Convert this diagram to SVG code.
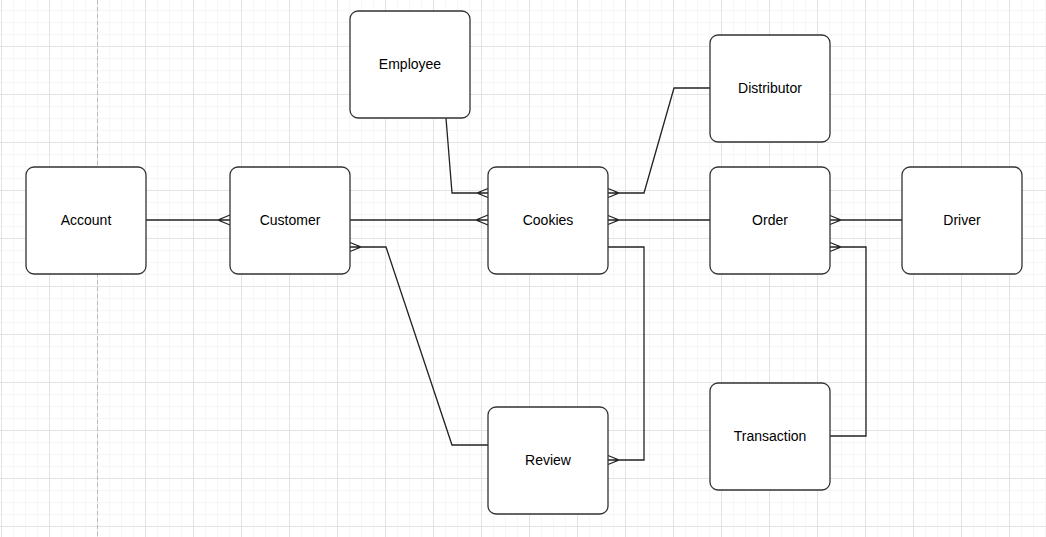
<svg xmlns="http://www.w3.org/2000/svg" width="1046" height="537" viewBox="0 0 1046 537">
<defs>
<style>
.node rect{fill:#fff;stroke:#333;stroke-width:1.3}
.node text{font-family:"Liberation Sans",Arial,sans-serif;font-size:14px;fill:#000;text-anchor:middle;dominant-baseline:central}
.conn path{fill:none;stroke:#222;stroke-width:1.3}
</style>
<pattern id="minor" width="12" height="12" patternUnits="userSpaceOnUse" x="1" y="10">
<path d="M0 0.5H12M0.5 0V12" fill="none" stroke="#f6f6f6" stroke-width="1"/>
</pattern>
<pattern id="major" width="48" height="48" patternUnits="userSpaceOnUse" x="1" y="46">
<path d="M0 0.5H48M0.5 0V48" fill="none" stroke="#e3e3e3" stroke-width="1"/>
</pattern>
</defs>
<rect width="1046" height="537" fill="#fff"/>
<rect width="1046" height="537" fill="url(#minor)"/>
<rect width="1046" height="537" fill="url(#major)"/>
<line x1="97.5" y1="0" x2="97.5" y2="537" stroke="#bbb" stroke-width="1" stroke-dasharray="4 3"/>
<g id="connectors" class="conn">
<path d="M146 220H230M230 215L218 220L230 225"/>
<path d="M350 220H488M488 215L476 220L488 225"/>
<path d="M446 118L452 193H488M488 188.5L477 193L488 197.5"/>
<path d="M350 247H386L452 445H488M350 242.5L361 247L350 251.5"/>
<path d="M608 193H644L674 88H710M608 188.5L619 193L608 197.5"/>
<path d="M608 220H710M608 215.5L619 220L608 224.5"/>
<path d="M608 247H644V460H608M608 455.5L619 460L608 464.5"/>
<path d="M830 220H902M830 215.5L841 220L830 224.5"/>
<path d="M830 247H866V436H830M830 242.5L841 247L830 251.5"/>
</g>
<g id="account" class="node"><rect x="26" y="167" width="120" height="107" rx="8"/><text x="86" y="220">Account</text></g>
<g id="customer" class="node"><rect x="230" y="167" width="120" height="107" rx="8"/><text x="290" y="220">Customer</text></g>
<g id="employee" class="node"><rect x="350" y="11" width="120" height="107" rx="8"/><text x="410" y="64">Employee</text></g>
<g id="cookies" class="node"><rect x="488" y="167" width="120" height="107" rx="8"/><text x="548" y="220">Cookies</text></g>
<g id="distributor" class="node"><rect x="710" y="35" width="120" height="107" rx="8"/><text x="770" y="88">Distributor</text></g>
<g id="order" class="node"><rect x="710" y="167" width="120" height="107" rx="8"/><text x="770" y="220">Order</text></g>
<g id="driver" class="node"><rect x="902" y="167" width="120" height="107" rx="8"/><text x="962" y="220">Driver</text></g>
<g id="review" class="node"><rect x="488" y="407" width="120" height="107" rx="8"/><text x="548" y="460">Review</text></g>
<g id="transaction" class="node"><rect x="710" y="383" width="120" height="107" rx="8"/><text x="770" y="436">Transaction</text></g>
</svg>
